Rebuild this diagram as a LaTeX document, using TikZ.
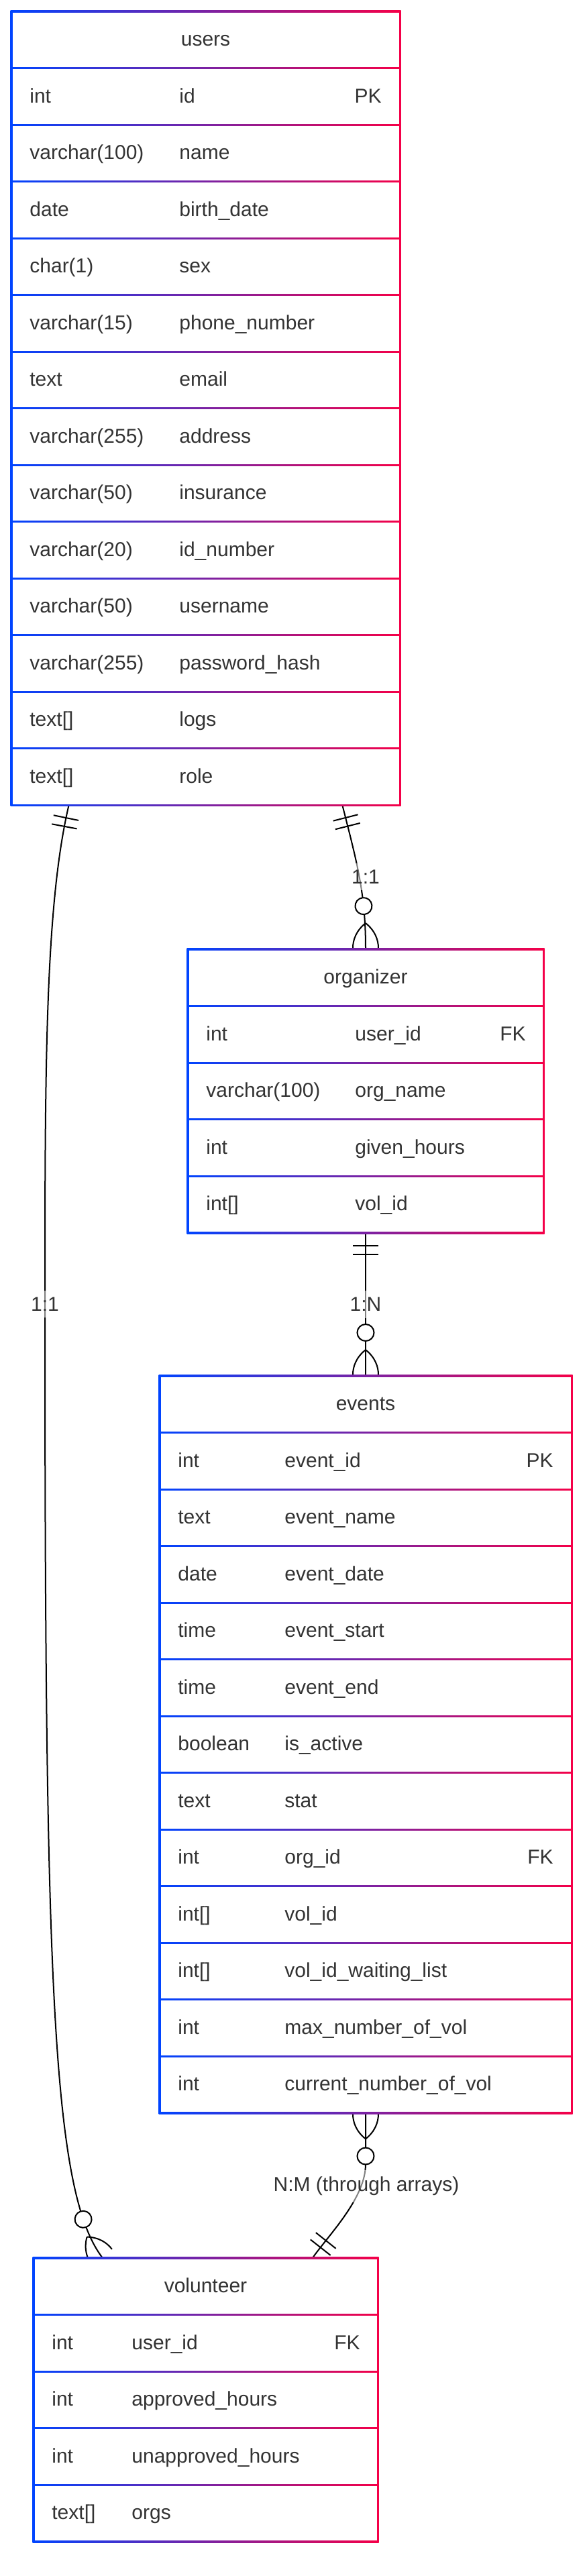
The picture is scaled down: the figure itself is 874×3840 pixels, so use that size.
\documentclass[tikz,border=0pt]{standalone}
\usepackage{fontspec}
\setmainfont{Liberation Sans}
\usetikzlibrary{backgrounds,decorations.markings}
\definecolor{erblue}{RGB}{0,68,255}
\definecolor{erred}{RGB}{245,0,72}
\definecolor{ertext}{HTML}{333333}
\tikzset{
 tbl/.style={left color=erblue,right color=erred,inner sep=0pt,outer sep=0pt},
 cell/.style={fill=white},
 txt/.style={text=ertext,inner sep=0pt,font=\fontsize{15}{18}\selectfont},
 lbl/.style={txt,fill=white,fill opacity=0.5,text opacity=1,inner sep=5pt},
 rel/.style={draw=black,line width=1pt},
 bars start/.style={postaction={decorate,decoration={markings,
  mark=at position 9pt with {\draw[line width=1pt] (0pt,-9.5pt) -- (0pt,9.5pt);},
  mark=at position 15.5pt with {\draw[line width=1pt] (0pt,-9.5pt) -- (0pt,9.5pt);}}}},
 bars end/.style={postaction={decorate,decoration={markings,
  mark=at position -15.5pt with {\draw[line width=1pt] (0pt,-9.5pt) -- (0pt,9.5pt);},
  mark=at position -9pt with {\draw[line width=1pt] (0pt,-9.5pt) -- (0pt,9.5pt);}}}},
 crow start/.style={postaction={decorate,decoration={markings,
  mark=at position 0.2pt with {\draw[line width=1pt] (18.5pt,0pt) .. controls (13pt,7pt) and (6pt,9.5pt) .. (0pt,9.5pt) (18.5pt,0pt) .. controls (13pt,-7pt) and (6pt,-9.5pt) .. (0pt,-9.5pt);},
  mark=at position 31.5pt with {\draw[line width=1pt,fill=white] (0pt,0pt) circle (6.25pt);}}}},
 crow end/.style={postaction={decorate,decoration={markings,
  mark=at position -31.5pt with {\draw[line width=1pt,fill=white] (0pt,0pt) circle (6.25pt);},
  mark=at position -0.2pt with {\draw[line width=1pt] (-18.5pt,0pt) .. controls (-13pt,7pt) and (-6pt,9.5pt) .. (0pt,9.5pt) (-18.5pt,0pt) .. controls (-13pt,-7pt) and (-6pt,-9.5pt) .. (0pt,-9.5pt);}}}}
}
\begin{document}
\begin{tikzpicture}[x=0.5pt,y=-0.5pt]
 \useasboundingbox (0,0) rectangle (874,3840);
 \node[tbl,minimum width=291pt,minimum height=593pt] (users) at (306.5,608.5) {};
 \foreach \i in {0,...,13} \fill[cell] (18.5,18.5+84.5*\i) rectangle (594.5,100+84.5*\i);
 \node[txt,anchor=base] (users-title) at (306.5,68.75) {users};
 \foreach \ty/\nm [count=\i] in {int/id, varchar(100)/name, date/birth\_date, char(1)/sex, varchar(15)/phone\_number, text/email, varchar(255)/address, varchar(50)/insurance, varchar(20)/id\_number, varchar(50)/username, varchar(255)/password\_hash, text[]/logs, text[]/role}{
  \node[txt,anchor=base west] (users-ty\i) at (44,68.75+84.5*\i) {\ty};
  \node[txt,anchor=base west] (users-nm\i) at (267,68.75+84.5*\i) {\nm};
 }
 \node[txt,anchor=base east] (users-pk) at (569,153.25) {PK};

 \node[tbl,minimum width=266.5pt,minimum height=212.75pt] (organizer) at (545,1626.25) {};
 \foreach \i in {0,...,4} \fill[cell] (281.5,1416.5+84.5*\i) rectangle (808.5,1498+84.5*\i);
 \node[txt,anchor=base] (organizer-title) at (545,1466.75) {organizer};
 \foreach \ty/\nm [count=\i] in {int/user\_id, varchar(100)/org\_name, int/given\_hours, int[]/vol\_id}{
  \node[txt,anchor=base west] (organizer-ty\i) at (307,1466.75+84.5*\i) {\ty};
  \node[txt,anchor=base west] (organizer-nm\i) at (529,1466.75+84.5*\i) {\nm};
 }
 \node[txt,anchor=base east] (organizer-fk) at (784,1551.25) {FK};

 \node[tbl,minimum width=308.5pt,minimum height=550.75pt] (events) at (545,2600.25) {};
 \foreach \i in {0,...,12} \fill[cell] (239.5,2052.5+84.5*\i) rectangle (850.5,2134+84.5*\i);
 \node[txt,anchor=base] (events-title) at (545,2102.75) {events};
 \foreach \ty/\nm [count=\i] in {int/event\_id, text/event\_name, date/event\_date, time/event\_start, time/event\_end, boolean/is\_active, text/stat, int/org\_id, int[]/vol\_id, int[]/vol\_id\_waiting\_list, int/max\_number\_of\_vol, int/current\_number\_of\_vol}{
  \node[txt,anchor=base west] (events-ty\i) at (265,2102.75+84.5*\i) {\ty};
  \node[txt,anchor=base west] (events-nm\i) at (424,2102.75+84.5*\i) {\nm};
 }
 \node[txt,anchor=base east] (events-pk) at (825,2187.25) {PK};
 \node[txt,anchor=base east] (events-fk) at (825,2778.75) {FK};

 \node[tbl,minimum width=258pt,minimum height=212.75pt] (volunteer) at (306.5,3577.25) {};
 \foreach \i in {0,...,4} \fill[cell] (51.5,3367.5+84.5*\i) rectangle (561.5,3449+84.5*\i);
 \node[txt,anchor=base] (volunteer-title) at (306.5,3417.75) {volunteer};
 \foreach \ty/\nm [count=\i] in {int/user\_id, int/approved\_hours, int/unapproved\_hours, text[]/orgs}{
  \node[txt,anchor=base west] (volunteer-ty\i) at (77,3417.75+84.5*\i) {\ty};
  \node[txt,anchor=base west] (volunteer-nm\i) at (196,3417.75+84.5*\i) {\nm};
 }
 \node[txt,anchor=base east] (volunteer-fk) at (537,3502.25) {FK};

 \begin{scope}[on background layer]
 \fill[white] (0,0) rectangle (874,3840);
 \coordinate (uv-mid) at (67,1944);
 \draw[rel,bars start,crow end] (users.-71.13) .. controls +(20,80) and +(0,-85) .. (organizer.north);
 \draw[rel,bars start,crow end] (users.-109.04) .. controls +(-35,150) and +(0,-350) .. (uv-mid) .. controls +(0,1000) and +(-75,-100) .. (volunteer.126.92);
 \draw[rel,bars start,crow end] (organizer.south) -- node[lbl] (oe-label) {1:N} (events.north);
 \draw[rel,crow start,bars end] (events.south) -- ++(0,75) .. controls +(0,50) and +(25,-35) .. (volunteer.53.25);
 \node[lbl] (uo-label) at (545,1307) {1:1};
 \node[lbl] (uv-label) at (uv-mid) {1:1};
 \node[lbl] (ev-label) at (546,3259) {N:M (through arrays)};
 \end{scope}
\end{tikzpicture}
\end{document}
